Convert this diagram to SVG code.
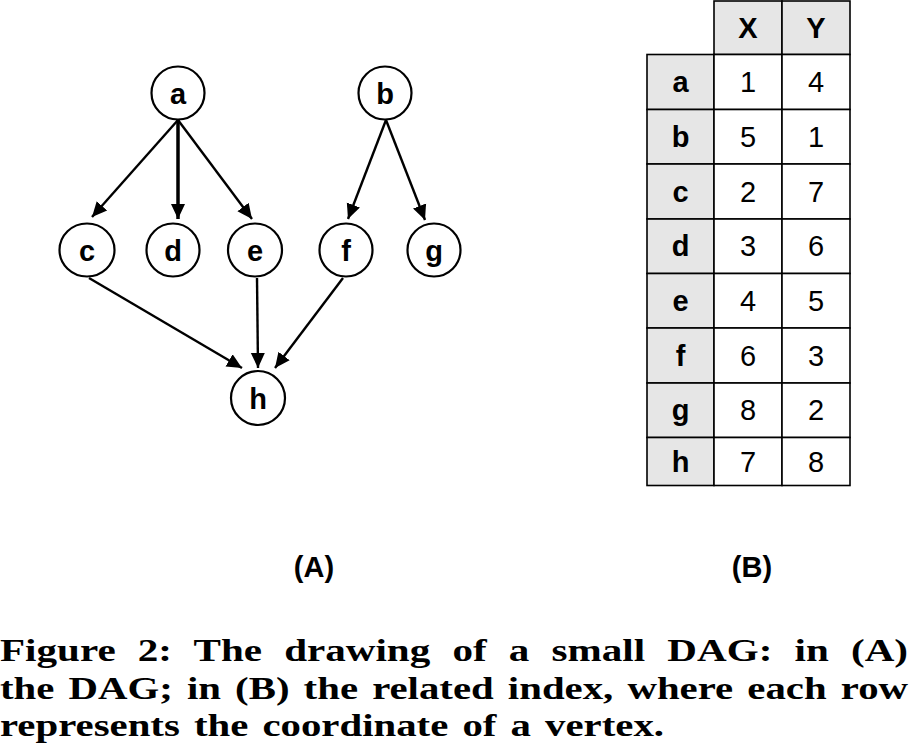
<svg xmlns="http://www.w3.org/2000/svg" width="910" height="748" viewBox="0 0 910 748">
<defs>
<style>
.node ellipse{fill:#fff;stroke:#000;stroke-width:2.2}
.node text{font-family:"Liberation Sans",Arial,sans-serif;font-weight:bold;font-size:29px;text-anchor:middle}
.edges line{stroke:#000;stroke-width:2.4;marker-end:url(#ah)}
.cell{stroke:#000;stroke-width:1.6}
.gray{fill:#e6e6e6}
.white{fill:#fff}
.tb{font-family:"Liberation Sans",Arial,sans-serif;font-size:29px;text-anchor:middle}
.b{font-weight:bold}
.cap{font-family:"Liberation Serif","Times New Roman",serif;font-weight:bold;font-size:31px}
</style>
<marker id="ah" markerUnits="userSpaceOnUse" markerWidth="16" markerHeight="16" viewBox="0 0 16 16" refX="15" refY="8" orient="auto">
<path d="M0,1 L15,8 L0,15 Z" fill="#000"/>
</marker>
</defs>
<rect width="910" height="748" fill="#fff"/>
<g class="edges">
<line x1="178" y1="120" x2="92" y2="217"/>
<line x1="178" y1="120" x2="178" y2="219" style="stroke-width:3.5"/>
<line x1="178" y1="120" x2="252" y2="219"/>
<line x1="386" y1="120" x2="348" y2="219"/>
<line x1="386" y1="120" x2="425" y2="220"/>
<line x1="89" y1="278" x2="242" y2="368"/>
<line x1="257" y1="278" x2="258" y2="368"/>
<line x1="343" y1="278" x2="275" y2="368"/>
</g>
<g id="node-a" class="node"><ellipse cx="178" cy="93" rx="26.5" ry="26.5"/><text x="178" y="104">a</text></g>
<g id="node-b" class="node"><ellipse cx="385" cy="93" rx="26.5" ry="26.5"/><text x="385" y="104">b</text></g>
<g id="node-c" class="node"><ellipse cx="87" cy="250" rx="27.5" ry="26.5"/><text x="87" y="261">c</text></g>
<g id="node-d" class="node"><ellipse cx="173" cy="250" rx="26.5" ry="26.5"/><text x="173" y="261">d</text></g>
<g id="node-e" class="node"><ellipse cx="255" cy="250" rx="27" ry="26.5"/><text x="255" y="261">e</text></g>
<g id="node-f" class="node"><ellipse cx="346" cy="250" rx="26.5" ry="26.5"/><text x="346" y="261">f</text></g>
<g id="node-g" class="node"><ellipse cx="434" cy="250" rx="26.5" ry="26.5"/><text x="434" y="261">g</text></g>
<g id="node-h" class="node"><ellipse cx="258" cy="398" rx="27" ry="27"/><text x="258" y="409">h</text></g>
<g id="table">
<rect class="cell gray" x="714" y="1" width="68" height="53.5"/>
<rect class="cell gray" x="782" y="1" width="68" height="53.5"/>
<rect class="cell gray" x="647" y="54.5" width="67" height="55"/>
<rect class="cell white" x="714" y="54.5" width="68" height="55"/>
<rect class="cell white" x="782" y="54.5" width="68" height="55"/>
<rect class="cell gray" x="647" y="109.5" width="67" height="54.5"/>
<rect class="cell white" x="714" y="109.5" width="68" height="54.5"/>
<rect class="cell white" x="782" y="109.5" width="68" height="54.5"/>
<rect class="cell gray" x="647" y="164" width="67" height="55"/>
<rect class="cell white" x="714" y="164" width="68" height="55"/>
<rect class="cell white" x="782" y="164" width="68" height="55"/>
<rect class="cell gray" x="647" y="219" width="67" height="54.5"/>
<rect class="cell white" x="714" y="219" width="68" height="54.5"/>
<rect class="cell white" x="782" y="219" width="68" height="54.5"/>
<rect class="cell gray" x="647" y="273.5" width="67" height="54.5"/>
<rect class="cell white" x="714" y="273.5" width="68" height="54.5"/>
<rect class="cell white" x="782" y="273.5" width="68" height="54.5"/>
<rect class="cell gray" x="647" y="328" width="67" height="55"/>
<rect class="cell white" x="714" y="328" width="68" height="55"/>
<rect class="cell white" x="782" y="328" width="68" height="55"/>
<rect class="cell gray" x="647" y="383" width="67" height="54.5"/>
<rect class="cell white" x="714" y="383" width="68" height="54.5"/>
<rect class="cell white" x="782" y="383" width="68" height="54.5"/>
<rect class="cell gray" x="647" y="437.5" width="67" height="48"/>
<rect class="cell white" x="714" y="437.5" width="68" height="48"/>
<rect class="cell white" x="782" y="437.5" width="68" height="48"/>
<text class="tb b" x="748" y="38">X</text>
<text class="tb b" x="816" y="38">Y</text>
<text class="tb b" x="680.5" y="92">a</text><text class="tb" x="748" y="92">1</text><text class="tb" x="816" y="92">4</text>
<text class="tb b" x="680.5" y="147">b</text><text class="tb" x="748" y="147">5</text><text class="tb" x="816" y="147">1</text>
<text class="tb b" x="680.5" y="202">c</text><text class="tb" x="748" y="202">2</text><text class="tb" x="816" y="202">7</text>
<text class="tb b" x="680.5" y="256">d</text><text class="tb" x="748" y="256">3</text><text class="tb" x="816" y="256">6</text>
<text class="tb b" x="680.5" y="311">e</text><text class="tb" x="748" y="311">4</text><text class="tb" x="816" y="311">5</text>
<text class="tb b" x="680.5" y="366">f</text><text class="tb" x="748" y="366">6</text><text class="tb" x="816" y="366">3</text>
<text class="tb b" x="680.5" y="420">g</text><text class="tb" x="748" y="420">8</text><text class="tb" x="816" y="420">2</text>
<text class="tb b" x="680.5" y="472">h</text><text class="tb" x="748" y="472">7</text><text class="tb" x="816" y="472">8</text>
</g>
<text class="tb b" x="314" y="577">(A)</text>
<text class="tb b" x="752" y="577">(B)</text>
<text class="cap" x="0" y="661" textLength="908" lengthAdjust="spacingAndGlyphs" style="word-spacing:9px">Figure 2:  The drawing of a small DAG: in (A)</text>
<text class="cap" x="0" y="699" textLength="908" lengthAdjust="spacingAndGlyphs" style="word-spacing:3px">the DAG; in (B) the related index, where each row</text>
<text class="cap" x="0" y="736" textLength="664" lengthAdjust="spacingAndGlyphs" style="word-spacing:3px">represents the coordinate of a vertex.</text>
</svg>
